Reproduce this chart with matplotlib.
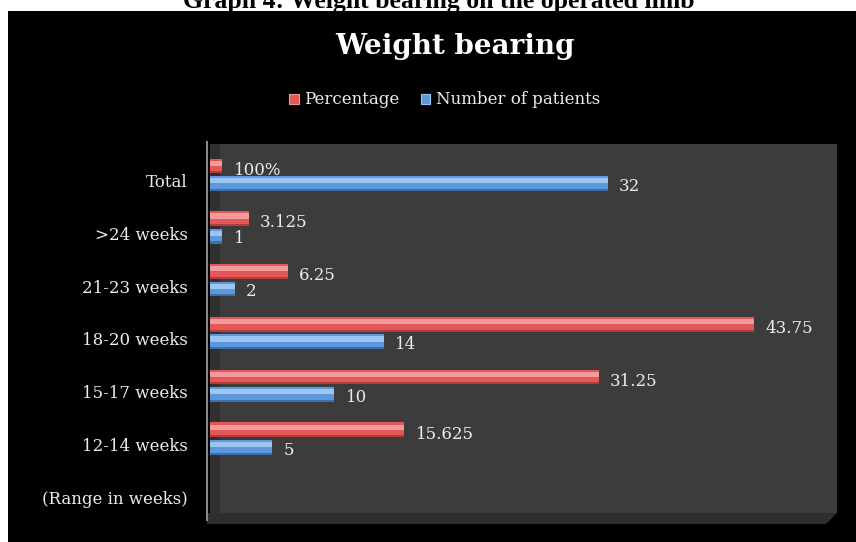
import matplotlib
matplotlib.use("Agg")
import matplotlib.pyplot as plt
from matplotlib.patches import Rectangle, Polygon, Patch
from matplotlib.transforms import ScaledTranslation
import numpy as np

# ---- data ----
categories = ["(Range in weeks)", "12-14 weeks", "15-17 weeks", "18-20 weeks",
              "21-23 weeks", ">24 weeks", "Total"]
percentage = [0, 15.625, 31.25, 43.75, 6.25, 3.125, 1]
pct_labels = ["", "15.625", "31.25", "43.75", "6.25", "3.125", "100%"]
patients = [0, 5, 10, 14, 2, 1, 32]
pat_labels = ["", "5", "10", "14", "2", "1", "32"]
series_names = ["Percentage", "Number of patients"]
chart_title = "Weight bearing"
caption = "Graph 4: Weight bearing on the operated limb"

W, H = 856, 542
fig = plt.figure(figsize=(W / 100, H / 100), dpi=100, facecolor="white")

def fx(px):
    return px / W

def fy(py):
    return 1 - py / H

# caption (partly hidden behind the black chart box, as in the source)
fig.text(fx(439), fy(8), caption, ha="center", va="baseline",
         family="Liberation Serif", weight="bold", fontsize=18.5, color="black", zorder=0)

# black chart background
fig.patches.append(Rectangle((fx(8), 0), 1 - fx(8), fy(11), transform=fig.transFigure,
                             facecolor="black", edgecolor="none", zorder=1))

# 3D floor and wall decoration
fig.patches.append(Polygon([(fx(207), fy(513)), (fx(837), fy(513)), (fx(826), fy(524)),
                            (fx(207), fy(524))], closed=True, transform=fig.transFigure,
                           facecolor="#2e2e2e", edgecolor="none", zorder=2))
fig.patches.append(Rectangle((fx(206), fy(521)), fx(2), fy(141) - fy(521),
                             transform=fig.transFigure, facecolor="#8a8a8a",
                             edgecolor="none", zorder=2))

ax = fig.add_axes([fx(210), fy(513), fx(837) - fx(210), fy(144) - fy(513)])
ax.set_zorder(3)
ax.set_facecolor("#3c3c3c")

# left wall shading
ax.axvspan(0, 0.8, color="#303030", zorder=0.5, lw=0)

y = np.arange(len(categories))
bh = 0.28
off = 0.165

red_base, red_hi, red_dark = "#e25858", "#f59a9a", "#b83a3a"
blue_base, blue_hi, blue_dark = "#5d97dc", "#9cc6f2", "#3c6fb0"

# red bars (percentage) - upper
ax.barh(y + off, percentage, height=bh, color=red_dark, lw=0, zorder=2, label=series_names[0])
ax.barh(y + off + 0.02, percentage, height=bh - 0.04, color=red_base, lw=0, zorder=2.1)
ax.barh(y + off + 0.05, percentage, height=bh * 0.35, color=red_hi, lw=0, zorder=2.2)

# blue bars (patients) - lower
ax.barh(y - off, patients, height=bh, color=blue_dark, lw=0, zorder=2, label=series_names[1])
ax.barh(y - off + 0.02, patients, height=bh - 0.04, color=blue_base, lw=0, zorder=2.1)
ax.barh(y - off + 0.05, patients, height=bh * 0.35, color=blue_hi, lw=0, zorder=2.2)

lab_font = dict(family="DejaVu Serif", fontsize=12, color="#ececec")
for yi, v, t in zip(y, percentage, pct_labels):
    if t:
        ax.annotate(t, (v, yi + off), xytext=(8, -3), textcoords="offset points",
                    ha="left", va="center", zorder=5, **lab_font)
for yi, v, t in zip(y, patients, pat_labels):
    if t:
        ax.annotate(t, (v, yi - off), xytext=(8, -2), textcoords="offset points",
                    ha="left", va="center", zorder=5, **lab_font)

ax.set_xlim(0, 50.4)
ax.set_ylim(-0.41, 6.58)
ax.set_xticks([])
ax.set_yticks(y)
ax.set_yticklabels(categories, family="DejaVu Serif", fontsize=12, color="#ececec")
ax.tick_params(axis="y", length=0, pad=16)
shift = ScaledTranslation(0, -6 / 100, fig.dpi_scale_trans)
for lbl in ax.get_yticklabels():
    lbl.set_transform(lbl.get_transform() + shift)
for s in ax.spines.values():
    s.set_visible(False)

# title
fig.text(fx(455), fy(46), chart_title, ha="center", va="center",
         family="DejaVu Serif", weight="bold", fontsize=20, color="white", zorder=4)

# legend
handles = [Patch(facecolor=red_base, edgecolor=red_hi, lw=0.8),
           Patch(facecolor=blue_base, edgecolor=blue_hi, lw=0.8)]
leg = fig.legend(handles, series_names, loc="center", bbox_to_anchor=(fx(445), fy(100)),
                 ncol=2, frameon=False, handlelength=0.55, handleheight=0.55,
                 handletextpad=0.35, columnspacing=1.3,
                 prop=dict(family="DejaVu Serif", size=12))
for t in leg.get_texts():
    t.set_color("#ececec")
leg.set_zorder(5)

fig.savefig("out.png", dpi=100, facecolor="white")
